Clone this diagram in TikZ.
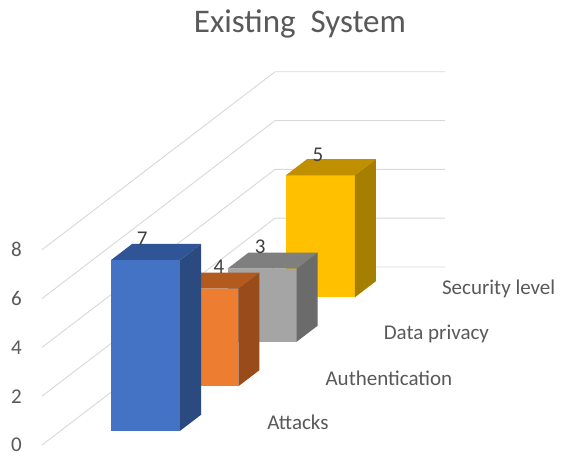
\documentclass[tikz,border=0pt]{standalone}
\usepackage{fontspec}
\setmainfont{Carlito}

\definecolor{gridgray}{HTML}{D9D9D9}
\definecolor{axistext}{HTML}{595959}
\definecolor{valtext}{HTML}{404040}
\definecolor{blueF}{HTML}{4472C4}
\definecolor{blueT}{HTML}{2F5597}
\definecolor{blueS}{HTML}{2A4A80}
\definecolor{orangeF}{HTML}{ED7D31}
\definecolor{orangeT}{HTML}{B35A1F}
\definecolor{orangeS}{HTML}{9A4B1A}
\definecolor{grayF}{HTML}{A5A5A5}
\definecolor{grayT}{HTML}{7F7F7F}
\definecolor{grayS}{HTML}{6B6B6B}
\definecolor{goldF}{HTML}{FFC000}
\definecolor{goldT}{HTML}{C09000}
\definecolor{goldS}{HTML}{A67F00}

% one 3-D column: #1 series slot (depth), #2 value, #3/#4/#5 front/top/side colours
\newcommand\chartbar[5]{%
  \fill[#3] (50.5,0,#1+0.32) -- (119.5,0,#1+0.32) -- (119.5,#2,#1+0.32) -- (50.5,#2,#1+0.32) -- cycle;
  \fill[#4] (50.5,#2,#1+0.32) -- (119.5,#2,#1+0.32) -- (119.5,#2,#1+0.68) -- (50.5,#2,#1+0.68) -- cycle;
  \fill[#5] (119.5,0,#1+0.32) -- (119.5,0,#1+0.68) -- (119.5,#2,#1+0.68) -- (119.5,#2,#1+0.32) -- cycle;
}

\tikzset{
  gridline/.style={draw=gridgray, line width=0.9pt},
  axislabel/.style={font=\fontsize{21}{25}\selectfont, text=axistext, inner sep=0pt},
  vallabel/.style={font=\fontsize{21}{25}\selectfont, text=valtext, inner sep=0pt},
  charttitle/.style={font=\fontsize{33}{38}\selectfont, text=axistext, inner sep=0pt}
}

\begin{document}
\begin{tikzpicture}
\useasboundingbox[fill=white] (0pt,0pt) rectangle (562pt,461pt);

\node[charttitle, anchor=base] (title) at (300pt,428pt) {Existing\ \ System};

\begin{scope}[shift={(42pt,16pt)}, x={(1pt,0pt)}, y={(0pt,24.4pt)}, z={(58.25pt,44.5pt)}]
  % gridlines: left wall diagonals and back wall horizontals
  \foreach \v in {0,2,4,6,8} {
    \draw[gridline] (0,\v,0) -- (0,\v,4) -- (170,\v,4);
    \node[axislabel, anchor=east] (tick\v) at (-20,\v,0) {\v};
  }

  % columns, back to front
  \chartbar{3}{5}{goldF}{goldT}{goldS}
  \chartbar{2}{3}{grayF}{grayT}{grayS}
  \chartbar{1}{4}{orangeF}{orangeT}{orangeS}
  \chartbar{0}{7}{blueF}{blueT}{blueS}

  % value labels
  \node[vallabel] (v0) at ([shift={(-3.5pt,21pt)}]85,7,0.32) {7};
  \node[vallabel] (v1) at ([shift={(15pt,22pt)}]85,4,1.32) {4};
  \node[vallabel] (v2) at ([shift={(-2pt,22pt)}]85,3,2.32) {3};
  \node[vallabel] (v3) at ([shift={(-2.5pt,20pt)}]85,5,3.32) {5};

  % series labels along the depth axis
  \node[axislabel, anchor=west] (s0) at (196,0,0.5) {Attacks};
  \node[axislabel, anchor=west] (s1) at (196,0,1.5) {Authentication};
  \node[axislabel, anchor=west] (s2) at (196,0,2.5) {Data privacy};
  \node[axislabel, anchor=west] (s3) at (196,0,3.5) {Security level};
\end{scope}
\end{tikzpicture}
\end{document}
